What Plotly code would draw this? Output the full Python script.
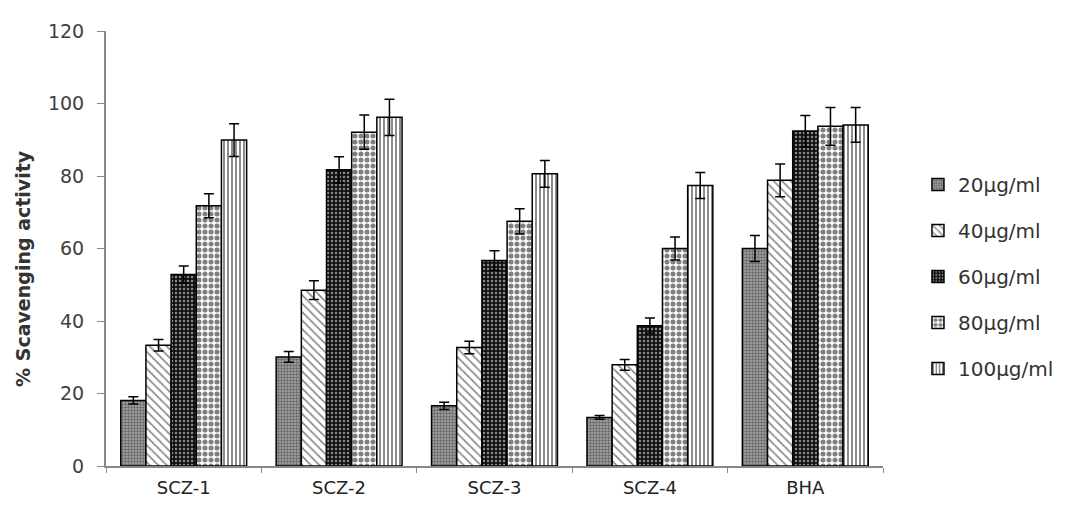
import plotly.graph_objects as go

categories = ["SCZ-1", "SCZ-2", "SCZ-3", "SCZ-4", "BHA"]
series_names = ["20µg/ml", "40µg/ml", "60µg/ml", "80µg/ml", "100µg/ml"]
values = [
    [18.1, 30.1, 16.6, 13.4, 60.0],
    [33.3, 48.5, 32.7, 27.9, 78.8],
    [52.8, 81.7, 56.7, 38.7, 92.4],
    [71.8, 92.1, 67.5, 60.0, 93.7],
    [89.9, 96.2, 80.6, 77.4, 94.1],
]
errors = [
    [1.0, 1.5, 1.0, 0.5, 3.6],
    [1.6, 2.6, 1.7, 1.5, 4.5],
    [2.4, 3.6, 2.7, 2.1, 4.3],
    [3.3, 4.7, 3.5, 3.2, 5.2],
    [4.5, 5.0, 3.7, 3.6, 4.8],
]

patterns = [
    dict(shape=".", fgcolor="#222222", bgcolor="#a8a8a8", size=3, solidity=0.5),
    dict(shape="\\", fgcolor="#000000", bgcolor="#ffffff", size=6, solidity=0.25),
    dict(shape=".", fgcolor="#ffffff", bgcolor="#111111", size=4, solidity=0.3),
    dict(shape=".", fgcolor="#000000", bgcolor="#ffffff", size=6, solidity=0.55),
    dict(shape="|", fgcolor="#000000", bgcolor="#ffffff", size=4, solidity=0.45),
]

fig = go.Figure()
for i, name in enumerate(series_names):
    fig.add_trace(go.Bar(
        x=categories, y=values[i], name=name, legendgroup=name,
        marker=dict(color="white", pattern=patterns[i],
                    line=dict(color="black", width=1.5)),
        error_y=dict(type="data", array=errors[i], color="black",
                     thickness=1.5, width=5),
    ))

fig.update_layout(
    width=1065, height=513,
    paper_bgcolor="white", plot_bgcolor="white",
    margin=dict(l=98, r=190, t=16, b=55),
    barmode="group", bargap=0.19, bargroupgap=0,
    font=dict(family="DejaVu Sans, sans-serif", size=19, color="#404040"),
    legend=dict(x=1.045, y=0.692, xanchor="left", yanchor="top",
                tracegroupgap=17, font=dict(size=20, color="#333333"),
                bgcolor="rgba(0,0,0,0)"),
    showlegend=True,
    annotations=[dict(
        text="<b>% Scavenging activity</b>", textangle=-90,
        xref="paper", yref="paper", x=-0.107, y=0.455,
        xanchor="center", yanchor="middle", showarrow=False,
        font=dict(size=19, color="#333333"),
    )],
)
fig.update_yaxes(
    range=[0, 120], dtick=20, showgrid=False, zeroline=False,
    showline=True, linecolor="#888888", linewidth=2,
    ticks="outside", ticklen=7, tickcolor="#888888",
    ticklabelstandoff=9,
    tickfont=dict(size=19, color="#404040"),
)
fig.update_xaxes(
    showgrid=False, showline=True, linecolor="#888888", linewidth=2,
    ticks="outside", tickson="boundaries", ticklen=5, tickcolor="#888888",
    ticklabelstandoff=4,
    tickfont=dict(color="#222222", size=18),
)

fig.write_html("out.html")
